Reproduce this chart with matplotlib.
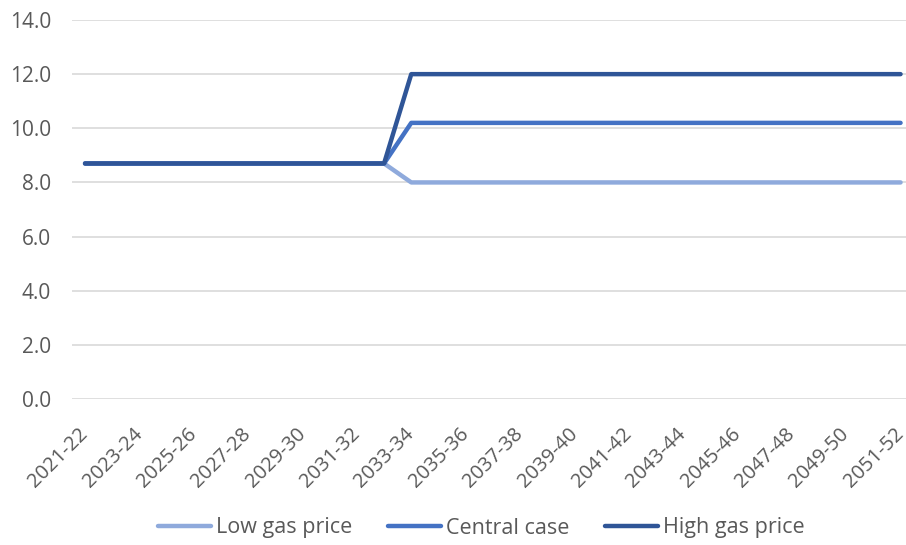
import matplotlib
matplotlib.use("Agg")
import matplotlib.pyplot as plt

years = [f"{y}-{(y + 1) % 100:02d}" for y in range(2021, 2052)]
low_gas = [8.7] * 12 + [8.0] * 19
central = [8.7] * 12 + [10.2] * 19
high_gas = [8.7] * 12 + [12.0] * 19

plt.rcParams['font.family'] = ['Open Sans', 'DejaVu Sans']

fig = plt.figure(figsize=(9.06, 5.45), dpi=100)
ax = fig.add_axes([72 / 906, 1 - 399 / 545, (906 - 72) / 906, (399 - 20) / 545])

x = list(range(len(years)))
ax.plot(x, low_gas, color="#8FAADC", lw=3.2, solid_capstyle="round", label="Low gas price", zorder=3)
ax.plot(x, central, color="#4472C4", lw=3.2, solid_capstyle="round", label="Central case", zorder=4)
ax.plot(x, high_gas, color="#2F5597", lw=3.2, solid_capstyle="round", label="High gas price", zorder=5)

ax.set_ylim(0, 14)
yt = [0, 2, 4, 6, 8, 10, 12, 14]
ax.set_yticks(yt)
ax.set_yticklabels([f"{v:.1f}" for v in yt], fontsize=15, color="#595959")
ax.set_xlim(-0.48, 30.2)
ax.set_xticks(x[::2])
ax.set_xticklabels(years[::2], rotation=45, ha="right", va="center", rotation_mode="anchor",
                   fontsize=14.5, color="#595959")
ax.tick_params(axis="both", length=0)
ax.tick_params(axis="y", pad=15)
ax.tick_params(axis="x", pad=23)

ax.grid(axis="y", color="#D9D9D9", lw=1.2)
ax.set_axisbelow(True)
for s in ax.spines.values():
    s.set_visible(False)

leg = fig.legend(loc="center", bbox_to_anchor=(481 / 906, 1 - 528 / 545), ncol=3, frameon=False,
                 fontsize=15.5, handlelength=2.5, handletextpad=0.2, columnspacing=1.65,
                 labelcolor="#595959")

fig.savefig("out.png", dpi=100)
